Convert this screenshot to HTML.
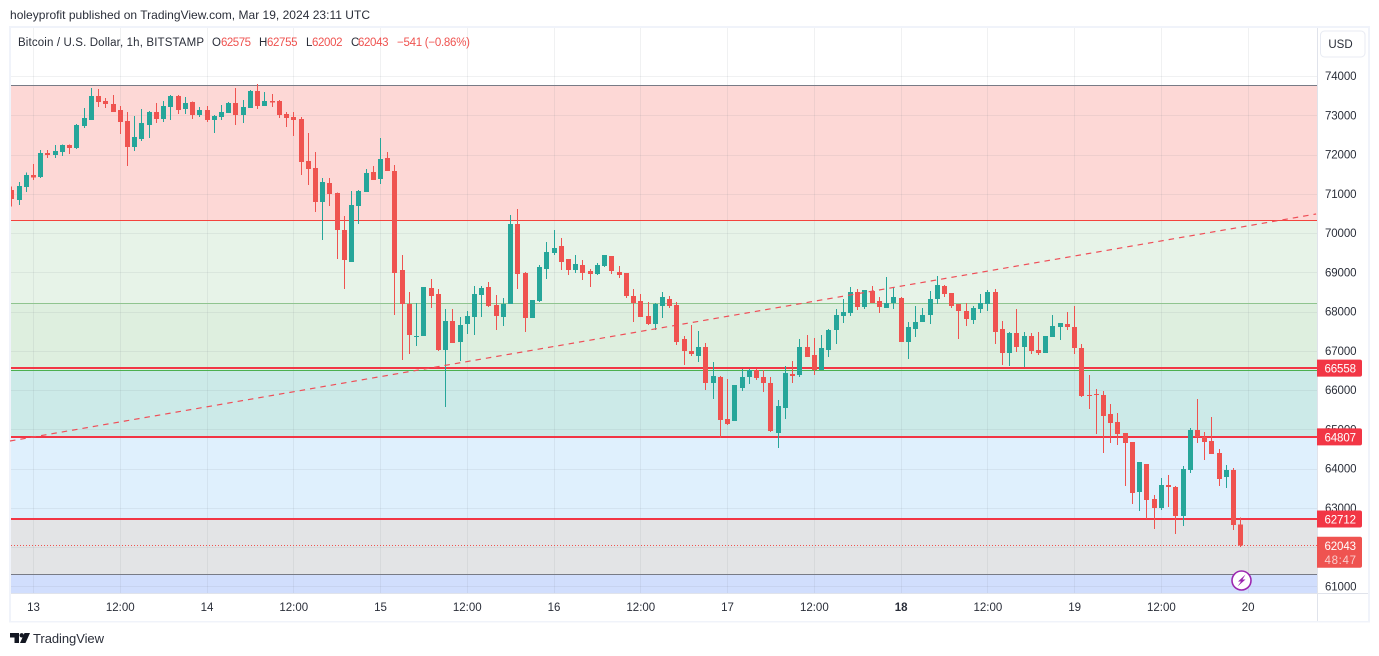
<!DOCTYPE html>
<html lang="en">
<head>
<meta charset="utf-8">
<title>BTC/USD chart</title>
<style>
html,body{margin:0;padding:0;background:#fff;width:1379px;height:656px;overflow:hidden}
svg{display:block;font-family:"Liberation Sans",Arial,sans-serif}
</style>
</head>
<body>
<svg id="chart" xmlns="http://www.w3.org/2000/svg" width="1379" height="656" viewBox="0 0 1379 656">
  <defs><clipPath id="pane-clip"><rect x="11" y="28" width="1306" height="566"/></clipPath></defs>
  <text x="10" y="19" font-size="12" fill="#2a2e39" textLength="360">holeyprofit published on TradingView.com, Mar 19, 2024 23:11 UTC</text>
  <rect x="10" y="27" width="1359" height="594.5" fill="#fff" stroke="#f0f3fa" stroke-width="2"/>
  <g id="bands"></g>
  <g id="grid"></g>
  <g id="levels"></g>
  <g id="candles" clip-path="url(#pane-clip)"></g>
  <line id="trend" stroke="#ef4f58" stroke-width="1.2" stroke-dasharray="5.5 5"/>
  <line id="last-line" x1="11" x2="1317" stroke="#ef5350" stroke-width="1" stroke-dasharray="1 2" shape-rendering="crispEdges"/>
  <rect x="1318" y="28" width="50" height="593" fill="#fff"/>
  <rect x="11" y="594" width="1306" height="27" fill="#fff"/>
  <line x1="1317.5" x2="1317.5" y1="28" y2="621" stroke="#e0e3eb"/>
  <line x1="11" x2="1368" y1="593.5" y2="593.5" stroke="#e0e3eb"/>
  <g id="y-ticks"></g>
  <g id="x-ticks"></g>
  <g id="tags"></g>
  <g>
    <rect x="1320.5" y="31" width="44.5" height="26" rx="4" fill="#fff" stroke="#e8ebf3"/>
    <text x="1340.5" y="48" font-size="11.5" text-anchor="middle" fill="#2a2e39">USD</text>
  </g>
  <g font-size="11.5">
    <text x="18" y="46" fill="#2a2e39" textLength="186" lengthAdjust="spacing">Bitcoin / U.S. Dollar, 1h, BITSTAMP</text>
    <text x="212" y="46" fill="#2a2e39">O</text>
    <text x="221" y="46" fill="#ef5350" textLength="30">62575</text>
    <text x="259" y="46" fill="#2a2e39">H</text>
    <text x="267" y="46" fill="#ef5350" textLength="30.5">62755</text>
    <text x="306" y="46" fill="#2a2e39">L</text>
    <text x="312" y="46" fill="#ef5350" textLength="30.5">62002</text>
    <text x="351" y="46" fill="#2a2e39">C</text>
    <text x="358" y="46" fill="#ef5350" textLength="30.5">62043</text>
    <text x="397" y="46" fill="#ef5350" textLength="73">−541 (−0.86%)</text>
  </g>
  <g>
    <circle cx="1241.5" cy="580.5" r="9.5" fill="#fff" stroke="#9c27b0" stroke-width="1.6"/>
    <polygon points="1245.5,574.5 1238,581.5 1241,581.5 1237.5,586.5 1245.5,579.5 1242.5,579.5" fill="#9c27b0"/>
  </g>
  <g>
    <path d="M10 633h9v10h-4.5v-5.5H10z" fill="#131722"/>
    <circle cx="21.7" cy="635.3" r="2.2" fill="#131722"/>
    <polygon points="24.5,633 30,633 25.5,643 20,643" fill="#131722"/>
    <text x="33" y="643" font-size="13" fill="#2a2e39" textLength="71">TradingView</text>
  </g>
</svg>
<script>
var opens = [
71100,70840,71170,71480,71430,72040,71990,72060,72240,72170,
72720,72880,73490,73360,73290,73130,72850,72190,72400,72750,
73080,72900,73210,73490,73160,73340,73010,73130,72880,72950,
73060,73310,73010,73180,73620,73230,73360,73360,73030,72950,
72900,71830,71660,70790,71270,71020,70080,69260,70690,71050,
71550,71380,71910,71580,69060,68190,67350,67380,68600,68450,
67020,67760,67220,67680,67860,68420,68620,68170,67860,68190,
70230,68980,67830,68270,69080,69490,69670,69340,69060,69180,
69030,68950,69160,69410,69010,68980,68400,68270,67890,67680,
68140,68320,68170,67300,66990,66870,67100,66180,66330,65260,
65210,66050,66330,66510,66330,66180,64900,65540,66410,66380,
67100,66890,66510,67020,67530,67890,67960,68500,68110,68520,
68270,68090,68220,68340,67220,67550,67730,67910,68320,68650,
68470,68190,68010,67780,68060,68190,68500,67550,66940,67450,
67100,67380,67020,66940,67350,67600,67680,67600,67070,65870,
65900,65870,65390,65180,64900,64670,63400,64110,63220,62990,
63580,63530,62790,63960,64980,64800,64700,64390,63780,63960,
62575];
var highs = [
71180,71300,71540,71760,72110,72110,72240,72250,72250,72780,
73180,73690,73670,73440,73520,73230,73080,72980,73160,73110,
73310,73360,73520,73520,73460,73350,73210,73230,73010,73260,
73340,73690,73390,73640,73800,73590,73540,73390,73080,73080,
72950,72550,72060,71400,71400,71030,70430,71070,71100,71630,
71710,72420,72060,71730,69440,68500,68220,68620,68830,68570,
68060,68060,67860,68010,68650,68650,68750,68420,68340,70460,
70610,69010,68290,69180,69770,70080,69870,69340,69440,69310,
69080,69240,69440,69410,69160,68980,68570,68450,68240,68220,
68500,68400,68240,67380,67660,67500,67200,66710,66360,66280,
66130,66540,66540,66540,66510,66330,65750,66610,66740,67300,
67400,67320,67400,67550,68060,68320,68620,68570,68550,68650,
68370,68880,68620,68370,67730,68140,68090,68520,68900,68670,
68470,68190,68220,68140,68450,68550,68570,67760,67480,68060,
67480,67450,67480,67380,67910,67710,67990,68140,67170,66380,
66030,65970,65640,65410,64900,64670,64170,64110,63320,63760,
63830,63550,64060,65030,65770,64930,65310,64500,64090,64010,
62755];
var lows = [
70670,70710,71050,71350,71400,71910,71910,71960,72010,72140,
72670,72880,73210,73180,73080,72520,71710,72090,72340,72420,
72800,72830,72880,73030,73030,72900,72950,72830,72550,72880,
73060,72750,72800,73180,73160,73230,73210,72930,72700,72470,
71480,71220,70530,69820,70690,69340,68570,69260,70230,71050,
71350,71250,71580,67910,66760,66920,67120,67380,68090,66990,
65570,67200,66740,67430,67400,67860,68110,67530,67630,68190,
68570,67480,67830,68240,68830,69440,69060,68930,68980,68800,
68620,68930,69130,68950,68850,68340,67730,67860,67660,67530,
67830,68090,67150,66640,66870,66710,66000,65770,64780,65110,
65210,65970,66150,66250,65950,64930,64520,65260,66180,66330,
66840,66380,66510,66840,67170,67710,67890,68040,68060,68220,
67960,68090,68060,67220,66790,67350,67730,67680,68190,68370,
68090,67300,67630,67680,67960,68010,67170,66640,66610,66970,
66590,66920,66890,66940,67350,67270,67530,66920,65820,65510,
64880,64390,64650,64600,63550,63100,62920,62710,62460,62940,
63020,62330,62530,63880,64650,64220,64370,63550,63500,62430,
62002];
var closes = [
70870,71200,71480,71410,72040,71990,72090,72240,72170,72750,
72930,73490,73340,73290,73080,72830,72190,72450,72800,73080,
72900,73230,73490,73130,73310,73010,73130,72880,72980,73080,
73310,73010,73210,73620,73230,73360,73330,73010,72930,72880,
71810,71630,70790,71300,71000,70080,69310,70710,71070,71530,
71350,71880,71580,68980,68190,67400,67380,68620,68400,67020,
67760,67200,67660,67890,68450,68600,68140,67890,68190,70230,
68950,67830,68290,69130,69520,69620,69260,69060,69210,68980,
68950,69180,69440,69030,68930,68400,68220,67860,67680,68190,
68370,68140,67220,66990,66920,67100,66180,66360,65240,65130,
66130,66330,66510,66310,66180,64960,65590,66430,66360,67100,
66840,66510,67070,67530,67910,67990,68500,68110,68550,68220,
68110,68220,68370,67220,67600,67730,67910,68320,68670,68450,
68140,68010,67810,68090,68220,68500,67480,66940,67450,67100,
67380,66990,66940,67380,67630,67710,67600,67070,65850,65850,
65870,65340,65160,64880,64650,63380,64170,63200,62990,63580,
63530,62790,63990,64980,64800,64670,64370,63730,63960,62560,
62043];
var priceTicks = [74000,73000,72000,71000,70000,69000,68000,67000,66000,65000,64000,63000,62000,61000];
var timeLabels = ["13","12:00","14","12:00","15","12:00","16","12:00","17","12:00","18","12:00","19","12:00","20"];
var boldTimeLabels = ["18"];
var bandTops = [73758,70320,66490,64807,62712,61290];
var bandBottoms = [70320,66490,64807,62712,61290,60810];
var bandColors = ["#fdd8d6","#e7f3e8","#cceae8","#dff0fd","#e3e4e6","#d1defd"];
var bandNames = ["resistance-zone","mid-zone","teal-zone","blue-zone","gray-zone","lavender-zone"];
var shadeTop = 68203;
var shadeBottom = 66490;
var levelPrices = [73758,70320,68203,66558,66490,64807,62712,61290];
var levelColors = ["#787b86","#f4433c","#8fc48f","#f23645","#4caf50","#f23645","#f23645","#787b86"];
var levelWidths = [1,1,1,2,1,2,2,1];
var tagPrices = [66558,64807,62712];
var trendTimes = [-0.25,180.4];
var trendPrices = [64700,70484];
var lastPrice = 62043;
var countdown = "48:47";

var NS = "http://www.w3.org/2000/svg";
function x(i){ return 11.8 + 7.23 * i; }
function y(p){ return 76 + (74000 - p) * 0.03925; }
function mk(tag, parent, attrs){
  var el = document.createElementNS(NS, tag);
  for (var k in attrs) el.setAttribute(k, attrs[k]);
  parent.appendChild(el);
  return el;
}
var L = 11, R = 1317;
var bandsG = document.getElementById("bands");
bandTops.forEach(function(p, i){
  var top = y(p), bottom = Math.min(594, y(bandBottoms[i]));
  var r = mk("rect", bandsG, {x:L, y:top, width:R-L, height:bottom-top, fill:bandColors[i]});
  
  
});
var shade = mk("rect", bandsG, {x:L, y:y(shadeTop), width:R-L, height:y(shadeBottom)-y(shadeTop), fill:"#4caf50", "fill-opacity":"0.055"});



var gridG = document.getElementById("grid");
priceTicks.forEach(function(p){
  var yy = Math.round(y(p)) + 0.5;
  var g = mk("line", gridG, {x1:L, x2:R, y1:yy, y2:yy, stroke:"#787b86", "stroke-opacity":"0.11"});
  
  
});
timeLabels.forEach(function(t, k){
  var xx = Math.floor(x(3 + 12 * k)) + 0.5;
  var g = mk("line", gridG, {x1:xx, x2:xx, y1:28, y2:593, stroke:"#787b86", "stroke-opacity":"0.11"});
  
  
});

var levG = document.getElementById("levels");
levelPrices.forEach(function(p, i){
  var h = levelWidths[i], t = Math.round(y(p) - h / 2);
  var r = mk("rect", levG, {x:L, y:t, width:R-L, height:h, fill:levelColors[i]});
  
  
});

var cG = document.getElementById("candles");
opens.forEach(function(o, i){
  var c = closes[i], up = c >= o, col = up ? "#26a69a" : "#ef5350";
  var px = Math.floor(x(i));
  var g = mk("g", cG, {fill:col, "shape-rendering":"crispEdges"});
  
  
  var hy = y(highs[i]), ly = y(lows[i]);
  var w = mk("rect", g, {x:px, y:hy, width:1, height:Math.max(1, ly-hy)});
  
  
  var top = y(Math.max(o, c)), bot = y(Math.min(o, c));
  var b = mk("rect", g, {x:px-2, y:top, width:5, height:Math.max(1, bot-top)});
  
  
});

var tr = document.getElementById("trend");
tr.setAttribute("x1", x(trendTimes[0]));
tr.setAttribute("x2", x(trendTimes[1]));
tr.setAttribute("y1", y(trendPrices[0]));
tr.setAttribute("y2", y(trendPrices[1]));

var ll = document.getElementById("last-line");
var lly = Math.round(y(lastPrice)) + 0.5;
ll.setAttribute("y1", lly);
ll.setAttribute("y2", lly);

var yT = document.getElementById("y-ticks");
priceTicks.forEach(function(p){
  var t = mk("text", yT, {x:1325, y:y(p)+4, "font-size":"11.5", fill:"#2a2e39", textLength:"31.5"});
  
  
  t.textContent = String(p);
});

var xT = document.getElementById("x-ticks");
timeLabels.forEach(function(lbl, k){
  var isBold = boldTimeLabels.indexOf(lbl) >= 0;
  var t = mk("text", xT, {x:x(3 + 12 * k), y:611, "font-size":"11.5", "text-anchor":"middle", fill:"#2a2e39", "font-weight":isBold ? "bold" : "normal"});
  
  
  t.textContent = lbl;
});

var tagsG = document.getElementById("tags");
tagPrices.forEach(function(p){
  var cy = y(p);
  var g = mk("g", tagsG, {});
  
  
  mk("path", g, {d:"M1317 "+(cy-8.5)+"h43a2 2 0 0 1 2 2v13a2 2 0 0 1 -2 2h-43z", fill:"#f23645"});
  var t = mk("text", g, {x:1324.5, y:cy+4.5, "font-size":"11.5", fill:"#fff", textLength:"31.5"});
  t.textContent = String(p);
});
var lastG = mk("g", tagsG, {});


var ly0 = y(lastPrice) - 8.5;
mk("path", lastG, {d:"M1317 "+ly0+"h43a2 2 0 0 1 2 2v27a2 2 0 0 1 -2 2h-43z", fill:"#ef5350"});
var lt = mk("text", lastG, {x:1324.5, y:ly0+13, "font-size":"11.5", fill:"#fff", textLength:"31.5"});
lt.textContent = String(lastPrice);
var lc = mk("text", lastG, {x:1324.5, y:ly0+27, "font-size":"11.5", fill:"#fff", "fill-opacity":"0.7", textLength:"31.5"});
lc.textContent = countdown;
</script>
</body>
</html>
